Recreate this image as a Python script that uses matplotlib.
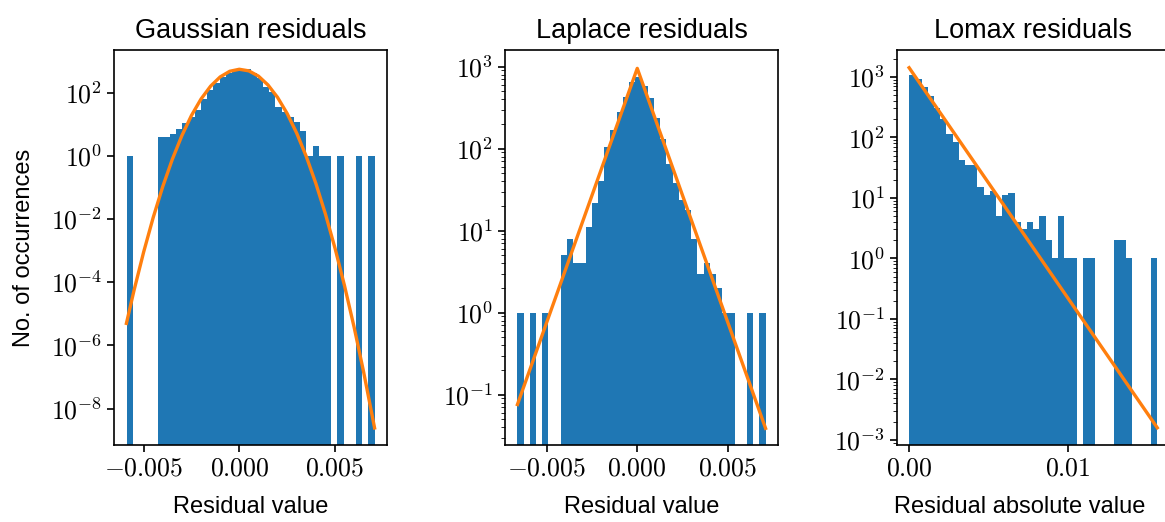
import numpy as np
import matplotlib
matplotlib.use("Agg")
import matplotlib.pyplot as plt
from matplotlib.ticker import FuncFormatter, NullLocator

plt.rcParams['font.family'] = ['Liberation Sans', 'DejaVu Sans']
plt.rcParams['mathtext.fontset'] = 'cm'
plt.rcParams['axes.linewidth'] = 1.2
plt.rcParams['xtick.major.width'] = 1.2
plt.rcParams['ytick.major.width'] = 1.2
plt.rcParams['xtick.major.size'] = 5
plt.rcParams['ytick.major.size'] = 5
plt.rcParams['ytick.minor.size'] = 3

# histogram ranges (40 bins each) and counts per bin
gauss_range = (-0.005887, 0.00707)
gauss_counts = [1, 0, 0, 0, 0, 4, 4, 5, 7, 11, 17, 28, 62, 122, 207, 307, 410, 495, 580, 550,
                410, 285, 155, 107, 36, 24, 17, 12, 6, 1, 2, 1, 1, 0, 1, 0, 0, 1, 0, 1]

laplace_range = (-0.00664, 0.00711)
laplace_counts = [1, 0, 1, 0, 1, 0, 0, 5, 8, 4, 4, 11, 22, 40, 104, 169, 280, 424, 650, 740,
                  590, 410, 235, 130, 66, 38, 24, 18, 8, 3, 4, 3, 2, 1, 1, 0, 0, 1, 0, 1]

lomax_range = (0.0, 0.01561)
lomax_counts = [1070, 920, 670, 475, 301, 198, 113, 85, 42, 35, 35, 15, 11, 13, 5, 11, 12, 4, 3, 4,
                3, 5, 2, 1, 5, 1, 1, 0, 1, 1, 0, 0, 0, 2, 2, 1, 0, 0, 0, 1]

# fitted curves, points
gauss_fit_x = [-0.0059, -0.0055, -0.005, -0.0045, -0.004, -0.0035, -0.003, -0.0025, -0.002,
               -0.0015, -0.001, -0.0005, 0.0, 0.0005, 0.001, 0.0015, 0.002, 0.0025, 0.003,
               0.0035, 0.004, 0.0045, 0.005, 0.0055, 0.006, 0.0065, 0.00707]
gauss_fit_y = [5.0e-6, 5.6e-5, 9.0e-4, 1.12e-2, 0.107, 0.78, 4.39, 19.0, 63.0,
               160.7, 315, 475, 550, 489, 334, 175, 70.7, 21.9, 5.22,
               0.956, 0.1344, 0.01453, 1.206e-3, 7.70e-5, 3.78e-6, 1.42e-7, 2.45e-9]

laplace_fit_x = [-0.00664, 0.0, 0.00711]
laplace_fit_y = [0.0759, 955, 0.0389]

lomax_fit_x = [0.0, 0.0078, 0.01561]
lomax_fit_y = [1413, 1.50, 0.00158]

sym_ticks = [-0.005, 0.0, 0.005]
sym_labels = ["$-0.005$", "$0.000$", "$0.005$"]
abs_ticks = [0.0, 0.01]
abs_labels = ["$0.00$", "$0.01$"]

fig = plt.figure(figsize=(11.65, 5.22), dpi=100)
W, H = 1165, 522
ax1 = fig.add_axes([114 / W, 77 / H, 273 / W, 395 / H])
ax2 = fig.add_axes([505 / W, 77 / H, 273 / W, 395 / H])
ax3 = fig.add_axes([896.7 / W, 77 / H, 273 / W, 395 / H])


def draw(ax, rng, counts, fx, fy):
    edges = np.linspace(rng[0], rng[1], len(counts) + 1)
    centers = (edges[:-1] + edges[1:]) / 2
    ax.hist(centers, bins=edges, weights=counts, log=True, color='#1f77b4')
    ax.plot(fx, fy, color='#ff7f0e', lw=2.4)


draw(ax1, gauss_range, gauss_counts, gauss_fit_x, gauss_fit_y)
draw(ax2, laplace_range, laplace_counts, laplace_fit_x, laplace_fit_y)
draw(ax3, lomax_range, lomax_counts, lomax_fit_x, lomax_fit_y)

ax1.set_ylim(10 ** -9.15, 10 ** 3.35)
ax2.set_ylim(10 ** -1.613, 10 ** 3.204)
ax3.set_ylim(10 ** -3.086, 10 ** 3.443)
ax1.yaxis.set_minor_locator(NullLocator())

pow_fmt = FuncFormatter(lambda v, pos: "$10^{%d}$" % int(round(np.log10(v))))
for ax in (ax1, ax2, ax3):
    ax.yaxis.set_major_formatter(pow_fmt)
    ax.tick_params(labelsize=18.5)

ax1.set_xticks(sym_ticks, sym_labels)
ax2.set_xticks(sym_ticks, sym_labels)
ax3.set_xticks(abs_ticks, abs_labels)

ax1.set_title("Gaussian residuals", fontsize=19.5, pad=9)
ax2.set_title("Laplace residuals", fontsize=19.5, pad=9)
ax3.set_title("Lomax residuals", fontsize=19.5, pad=9)
ax1.set_xlabel("Residual value", fontsize=17)
ax2.set_xlabel("Residual value", fontsize=17)
ax3.set_xlabel("Residual absolute value", fontsize=17)
ax1.set_ylabel("No. of occurrences", fontsize=17)

ax1.xaxis.set_label_coords(0.5, -0.13)
ax2.xaxis.set_label_coords(0.5, -0.13)
ax3.xaxis.set_label_coords(0.452, -0.13)
ax1.yaxis.set_label_coords(-0.29, 0.5)

fig.savefig("out.png", dpi=100)
